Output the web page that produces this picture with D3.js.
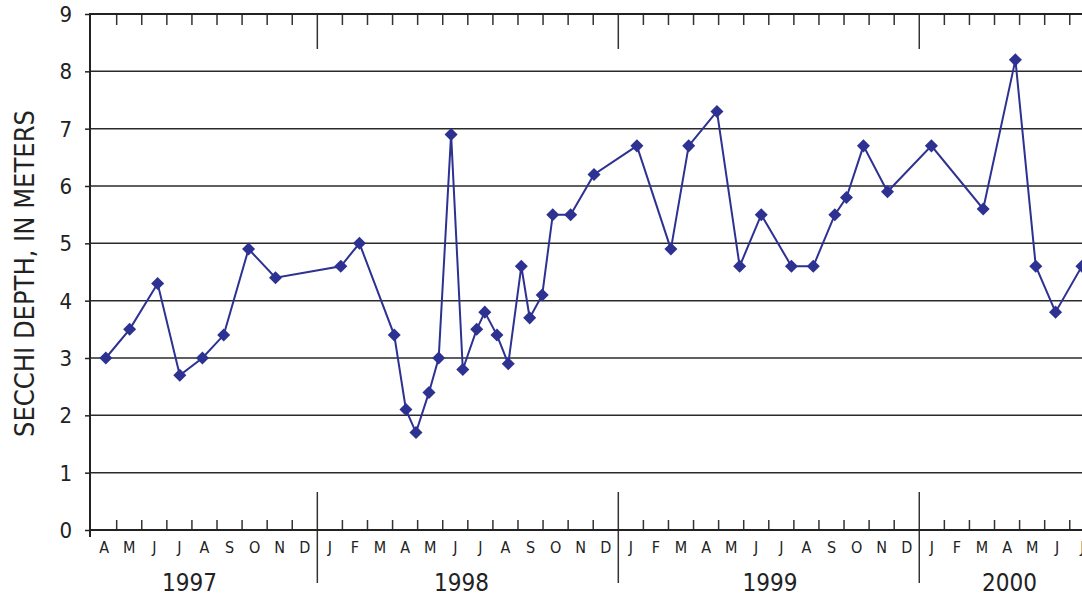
<!DOCTYPE html>
<html>
<head>
<meta charset="utf-8">
<script src="https://cdn.jsdelivr.net/npm/d3@7"></script>
<style>
  body { margin: 0; background: #fff; }
  svg { display: block; }
  text { font-family: "Liberation Sans Narrow", "Arial Narrow", "DejaVu Sans Condensed", sans-serif; fill: #222; }
</style>
</head>
<body>
<div id="chart"></div>
<script>
// sample dates and secchi depths (m)
var dates = [
  "1997-04-18", "1997-05-17", "1997-06-20", "1997-07-17", "1997-08-14", "1997-09-09", "1997-10-09", "1997-11-11",
  "1998-01-30", "1998-02-20", "1998-04-03", "1998-04-17", "1998-04-29", "1998-05-15", "1998-05-27", "1998-06-11",
  "1998-06-25", "1998-07-12", "1998-07-22", "1998-08-06", "1998-08-20", "1998-09-05", "1998-09-15", "1998-09-30",
  "1998-10-13", "1998-11-04", "1998-12-02",
  "1999-01-24", "1999-03-04", "1999-03-26", "1999-04-29", "1999-05-27", "1999-06-22", "1999-07-29", "1999-08-25",
  "1999-09-20", "1999-10-04", "1999-10-25", "1999-11-23",
  "2000-01-16", "2000-03-18", "2000-04-26", "2000-05-21", "2000-06-14", "2000-07-16"
];
var depths = [
  3.0, 3.5, 4.3, 2.7, 3.0, 3.4, 4.9, 4.4,
  4.6, 5.0, 3.4, 2.1, 1.7, 2.4, 3.0, 6.9,
  2.8, 3.5, 3.8, 3.4, 2.9, 4.6, 3.7, 4.1,
  5.5, 5.5, 6.2,
  6.7, 4.9, 6.7, 7.3, 4.6, 5.5, 4.6, 4.6,
  5.5, 5.8, 6.7, 5.9,
  6.7, 5.6, 8.2, 4.6, 3.8, 4.6
];

var monthLetters = ["J", "F", "M", "A", "M", "J", "J", "A", "S", "O", "N", "D"];
var years = [1997, 1998, 1999, 2000];
var yTicks = [0, 1, 2, 3, 4, 5, 6, 7, 8, 9];

var width = 1082,
    height = 596,
    startYear = 1997,
    startMonth = 3,   // April (0-based)
    nMonths = 40;

// month index counted from April 1997, with fraction for the day
function monthIndex(s) {
  var p = s.split("-").map(Number);
  var dim = new Date(p[0], p[1], 0).getDate();
  return (p[0] - startYear) * 12 + (p[1] - 1 - startMonth) + (p[2] - 1) / dim;
}

var x = d3.scaleLinear().domain([0, 39.5]).range([91.6, 1082.3]);
var y = d3.scaleLinear().domain([0, 9]).range([530, 14]);

var svg = d3.select("#chart").append("svg")
    .attr("width", width)
    .attr("height", height);

// gridlines
svg.append("g")
  .selectAll("line")
  .data(yTicks.filter(function (d) { return d > 0 && d < 9; }))
  .enter().append("line")
  .attr("x1", 90).attr("x2", width)
  .attr("y1", function (d) { return y(d); })
  .attr("y2", function (d) { return y(d); })
  .attr("stroke", "#2a2a2a")
  .attr("stroke-width", 1.5);

// month boundaries
var bounds = d3.range(1, nMonths);
var isYear = function (m) { return (m + startMonth) % 12 === 0; };

var tickG = svg.append("g").attr("stroke", "#333").attr("stroke-width", 1.5);
tickG.selectAll("line.mb")
  .data(bounds.filter(function (m) { return !isYear(m); }))
  .enter().append("line")
  .attr("x1", function (m) { return x(m); }).attr("x2", function (m) { return x(m); })
  .attr("y1", 520).attr("y2", 530);
tickG.selectAll("line.mt")
  .data(bounds.filter(function (m) { return !isYear(m); }))
  .enter().append("line")
  .attr("x1", function (m) { return x(m); }).attr("x2", function (m) { return x(m); })
  .attr("y1", 14).attr("y2", 25);
tickG.selectAll("line.yb")
  .data(bounds.filter(isYear))
  .enter().append("line")
  .attr("x1", function (m) { return x(m); }).attr("x2", function (m) { return x(m); })
  .attr("y1", 492).attr("y2", 583);
tickG.selectAll("line.yt")
  .data(bounds.filter(isYear))
  .enter().append("line")
  .attr("x1", function (m) { return x(m); }).attr("x2", function (m) { return x(m); })
  .attr("y1", 14).attr("y2", 49);

// frame lines
svg.append("line").attr("x1", 90).attr("x2", width).attr("y1", y(0)).attr("y2", y(0))
  .attr("stroke", "#222").attr("stroke-width", 2);
svg.append("line").attr("x1", 90).attr("x2", width).attr("y1", y(9)).attr("y2", y(9))
  .attr("stroke", "#222").attr("stroke-width", 2);
svg.append("line").attr("x1", 90).attr("x2", 90).attr("y1", y(9) - 1).attr("y2", 537)
  .attr("stroke", "#222").attr("stroke-width", 2);

// y axis ticks + labels
var yAxis = d3.axisLeft(y).tickValues(yTicks).tickSize(5).tickSizeOuter(0).tickPadding(13);
var ya = svg.append("g").attr("transform", "translate(90,0)").call(yAxis);
ya.select(".domain").remove();
ya.selectAll(".tick line").attr("stroke", "#222").attr("stroke-width", 1.5);
ya.selectAll(".tick text")
  .attr("font-size", 22)
  .attr("font-family", null)
  .attr("fill", "#222")
  .attr("dy", "0.34em");

// month letters
svg.append("g")
  .selectAll("text")
  .data(d3.range(0, nMonths))
  .enter().append("text")
  .attr("x", function (m) { return x(m + 0.5); })
  .attr("y", 553)
  .attr("text-anchor", "middle")
  .attr("font-size", 16)
  .text(function (m) { return monthLetters[(m + startMonth) % 12]; });

// year labels (positions in month units)
var yearLabelAt = [3.9, 14.75, 27.05, 36.6];
svg.append("g")
  .selectAll("text")
  .data(years)
  .enter().append("text")
  .attr("x", function (d, i) { return x(yearLabelAt[i]); })
  .attr("y", 591)
  .attr("text-anchor", "middle")
  .attr("font-size", 24)
  .text(function (d) { return d; });

// axis title
svg.append("text")
  .attr("transform", "translate(34," + 273.5 + ") rotate(-90)")
  .attr("text-anchor", "middle")
  .attr("font-size", 27)
  .text("SECCHI DEPTH, IN METERS");

// series
var pts = dates.map(function (d, i) { return { m: monthIndex(d), v: depths[i] }; });
var line = d3.line().x(function (d) { return x(d.m); }).y(function (d) { return y(d.v); });
var color = "#2d3192";

svg.append("path")
  .datum(pts)
  .attr("fill", "none")
  .attr("stroke", color)
  .attr("stroke-width", 2)
  .attr("d", line);

var sym = d3.symbol().type(d3.symbolSquare).size(85);
svg.append("g")
  .selectAll("path")
  .data(pts)
  .enter().append("path")
  .attr("d", sym)
  .attr("fill", color)
  .attr("transform", function (d) { return "translate(" + x(d.m) + "," + y(d.v) + ") rotate(45)"; });
</script>
</body>
</html>
